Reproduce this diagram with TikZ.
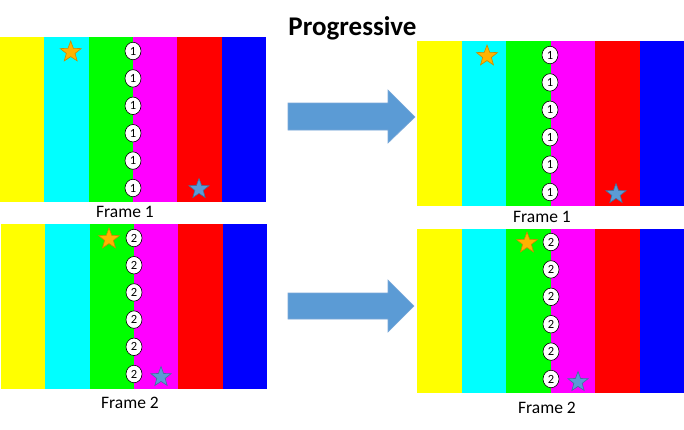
\documentclass[tikz,border=0pt]{standalone}
\usepackage{fontspec}
\setmainfont{Carlito}
\usetikzlibrary{shapes.geometric}
\definecolor{arrowblue}{HTML}{5B9BD5}
\definecolor{arrowedge}{HTML}{7AA8D8}
\definecolor{stargold}{HTML}{FFB300}
\definecolor{stargoldedge}{HTML}{C98A00}
\definecolor{starblue}{HTML}{5B9BD5}
\definecolor{starblueedge}{HTML}{41719C}
\definecolor{sYellow}{HTML}{FFFF00}
\definecolor{sCyan}{HTML}{00FFFF}
\definecolor{sGreen}{HTML}{00FF00}
\definecolor{sMagenta}{HTML}{FF00FF}
\definecolor{sRed}{HTML}{FF0000}
\definecolor{sBlue}{HTML}{0000FF}
\newcommand\stripeframe[4]{% x0, top, width, height
  \foreach \c [count=\i from 0] in {sYellow,sCyan,sGreen,sMagenta,sRed,sBlue}{
    \fill[\c] ({#1+\i*#3/6},#2) rectangle ++({#3/6+0.4},#4);
  }}
\begin{document}
\begin{tikzpicture}[x=1pt,y=-1pt,
  badge/.style={ellipse,draw=black,line width=0.6pt,fill=white,minimum width=16pt,minimum height=17.5pt,inner sep=0pt,font=\fontsize{12.5}{12.5}\selectfont},
  goldstar/.style={star,star points=5,star point ratio=2.4,minimum size=22pt,inner sep=0pt,fill=stargold,draw=stargoldedge,line width=0.6pt},
  bluestar/.style={star,star points=5,star point ratio=2.4,minimum size=21pt,inner sep=0pt,fill=starblue,draw=starblueedge,line width=0.6pt},
  caption/.style={font=\fontsize{17.5}{18}\selectfont,inner sep=0pt},
  bigarrow/.style={fill=arrowblue,draw=arrowedge,line width=0.6pt}]
\useasboundingbox (0,0) rectangle (684,429);
\fill[white] (0,0) rectangle (684,429);

% title
\node[font=\bfseries\fontsize{27}{27}\selectfont,inner sep=0pt] (title) at (352.5,28) {Progressive};

% frame 1 left
\stripeframe{0}{37}{266}{165}
\foreach \k in {0,...,5} \node[badge] (la\k) at (133,{51+\k*27.4}) {1};
\node[goldstar] (lag) at (70.7,52) {};
\node[bluestar] (lab) at (199,189) {};
\node[caption] (lacap) at (125,212) {Frame 1};

% frame 2 left
\stripeframe{1}{224}{266}{165}
\foreach \k in {0,...,5} \node[badge] (lb\k) at (134,{238+\k*27.2}) {2};
\node[goldstar] (lbg) at (109,239) {};
\node[bluestar] (lbb) at (161,377) {};
\node[caption] (lbcap) at (130,403) {Frame 2};

% frame 1 right
\stripeframe{417}{41}{267}{165}
\foreach \k in {0,...,5} \node[badge] (ra\k) at (550,{55+\k*27.4}) {1};
\node[goldstar] (rag) at (487,56) {};
\node[bluestar] (rab) at (616,194) {};
\node[caption] (racap) at (542,217) {Frame 1};

% frame 2 right
\stripeframe{417}{229}{267}{164}
\foreach \k in {0,...,5} \node[badge] (rb\k) at (551,{242+\k*27.4}) {2};
\node[goldstar] (rbg) at (527,243) {};
\node[bluestar] (rbb) at (578,382) {};
\node[caption] (rbcap) at (547,408) {Frame 2};

% arrows
\draw[bigarrow] (288,103) -- (388,103) -- (388,90) -- (415,117) -- (388,143) -- (388,130) -- (288,130) -- cycle;
\draw[bigarrow] (288,293) -- (388,293) -- (388,280) -- (414,306) -- (388,332) -- (388,319) -- (288,319) -- cycle;
\end{tikzpicture}
\end{document}
